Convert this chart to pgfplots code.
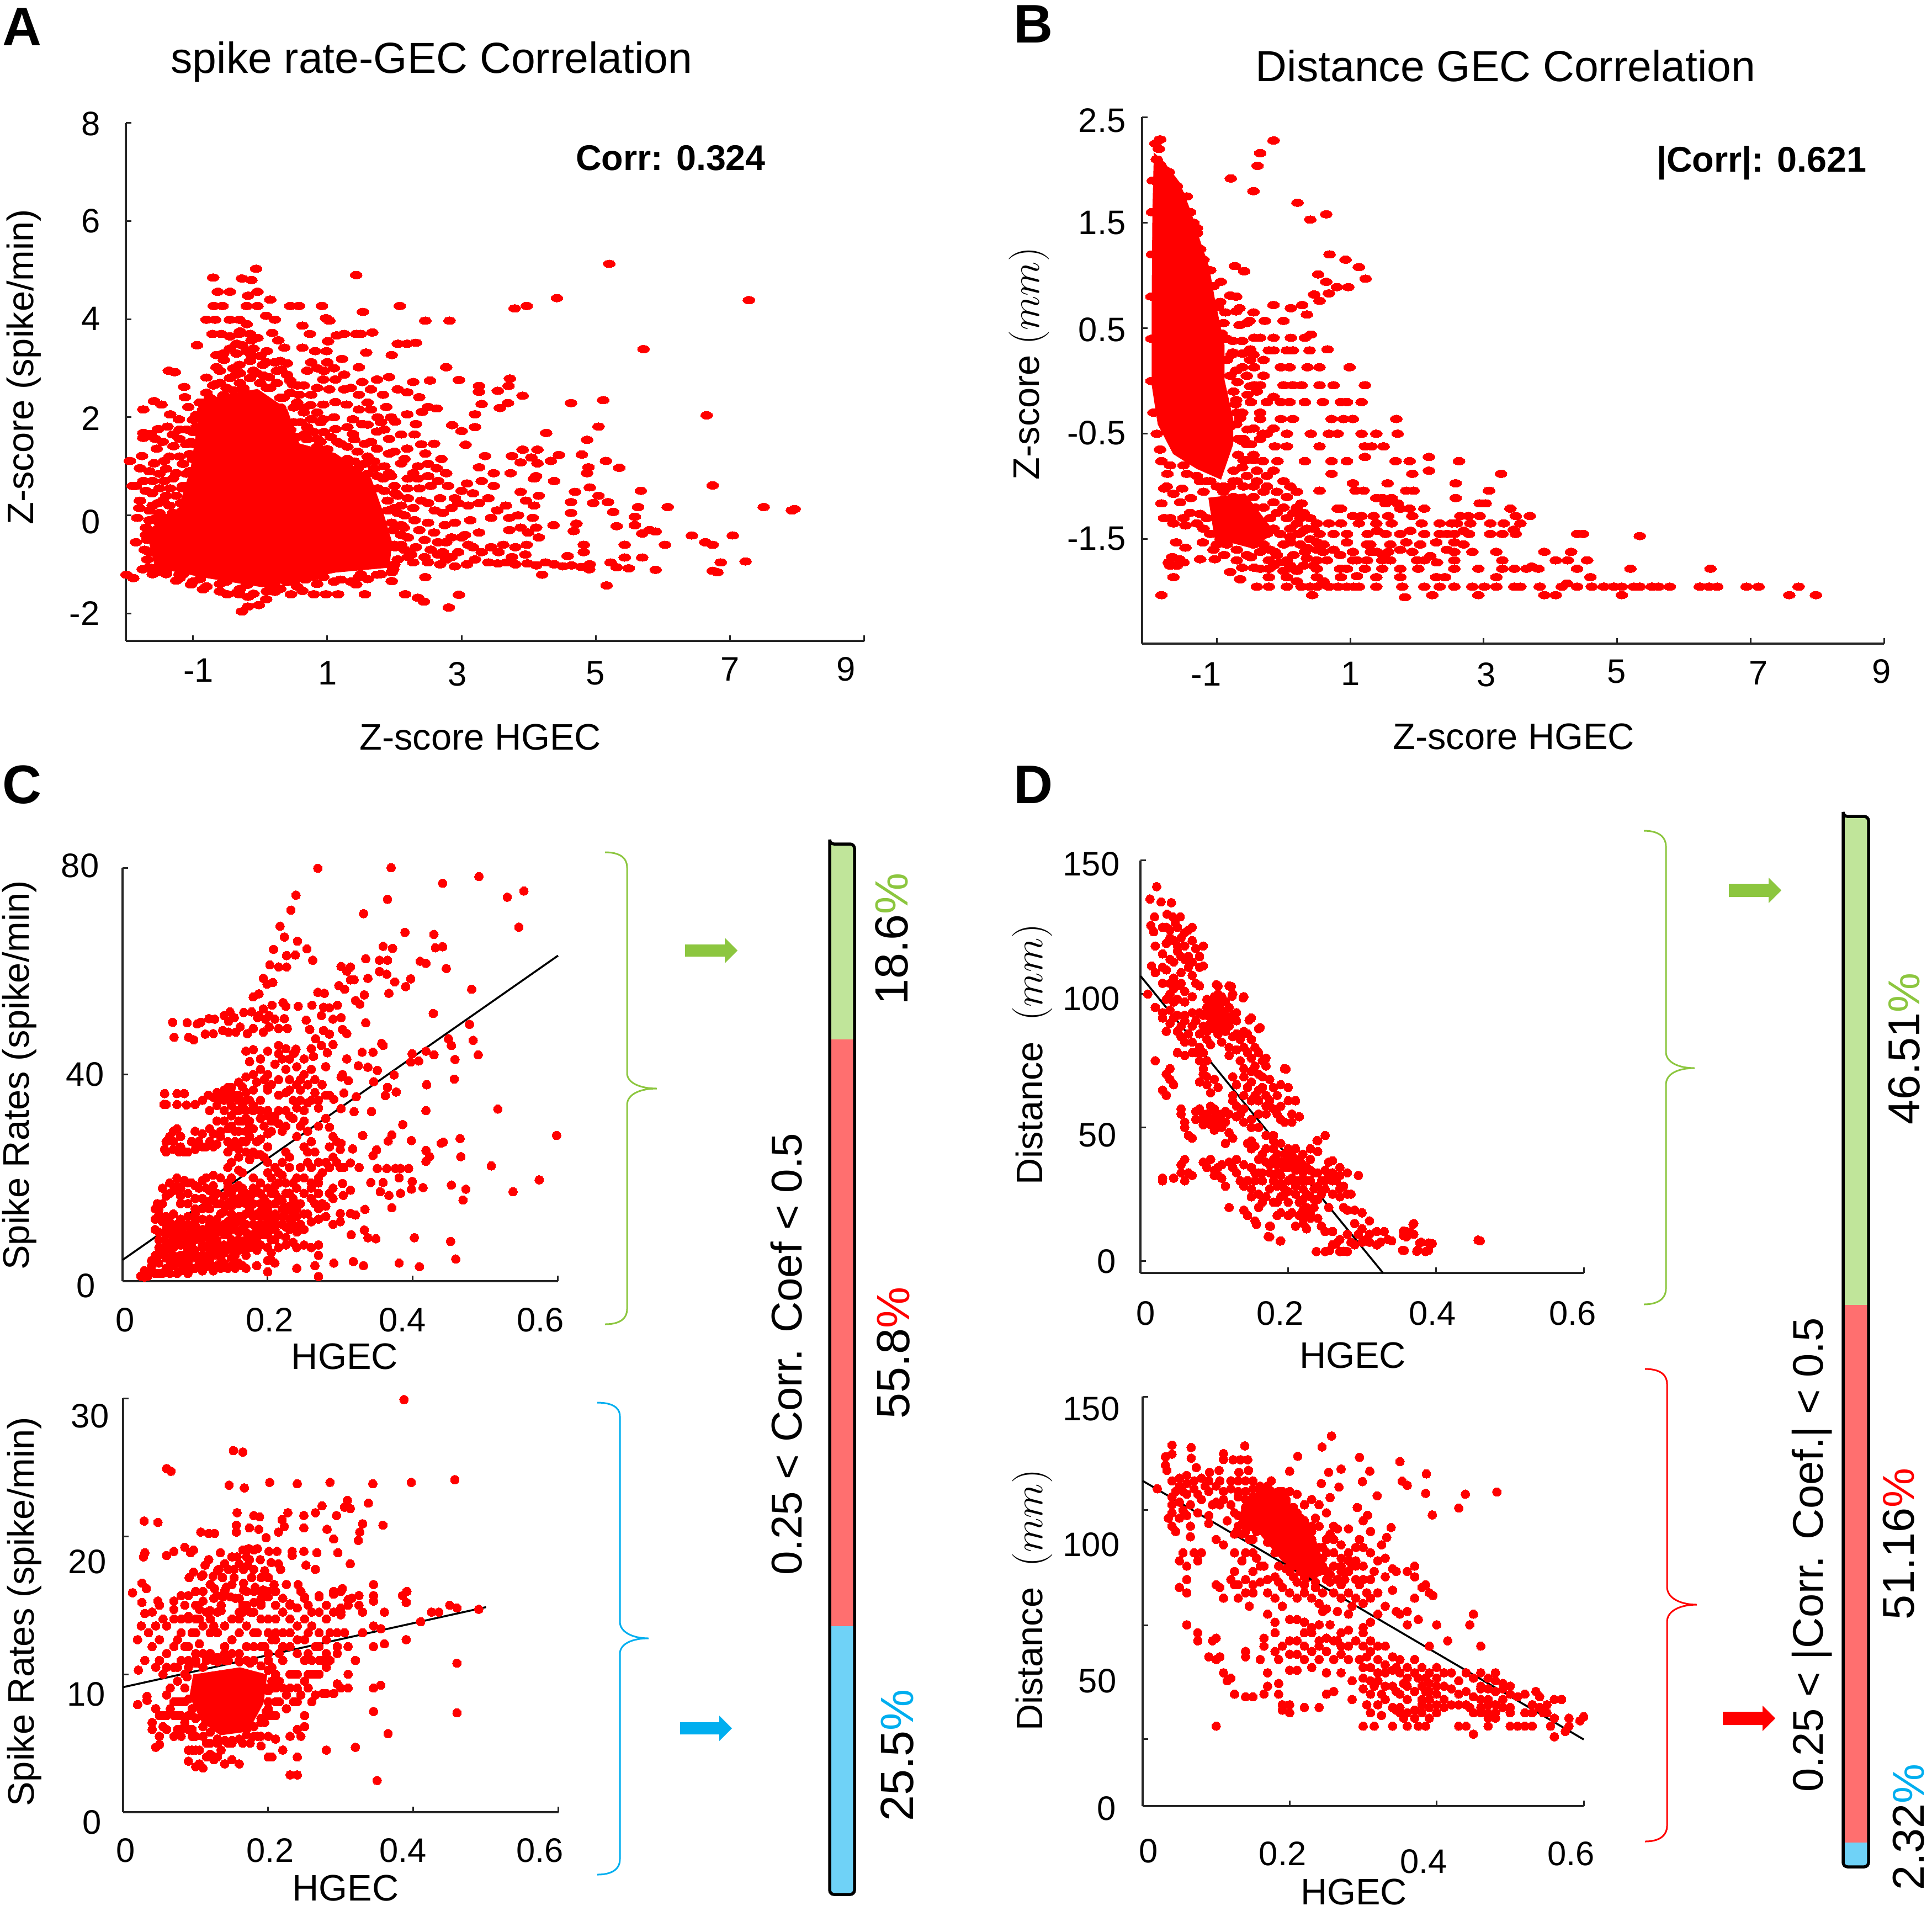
\documentclass[border=0pt]{standalone}
\usepackage{pgfplots}
\pgfplotsset{compat=1.18}
\usepackage{fontspec}
\setmainfont{Liberation Sans}
\DeclareMathSizes{19}{20.74}{17.28}{14.4}
\definecolor{ugreen}{HTML}{8CC63F}
\definecolor{ublue}{HTML}{00AEEF}
\definecolor{bgreen}{HTML}{C0E59A}
\definecolor{bred}{HTML}{FF6F6F}
\definecolor{bblue}{HTML}{6FD2F7}
\newcommand\shx[3]{\raisebox{#2}[\height][\depth]{\makebox[0pt]{\hspace*{2\dimexpr#1\relax}#3}}}
\newcommand\shy[3]{\raisebox{#2}[\height][\depth]{#3\hspace*{-\dimexpr#1\relax}}}
\newcommand\tickf{\fontsize{17.5}{20}\selectfont}
\newcommand\lblf{\fontsize{19}{22}\selectfont}
\newcommand\titf{\fontsize{22.4}{26}\selectfont}
\pgfplotsset{
 panel/.style={scale only axis, axis lines=left, axis line style={-,line width=.35mm,black!85},
  tick align=inside, tick style={line width=.3mm,black!85}, major tick length=1mm,
  clip=false, tick label style={font=\tickf,inner sep=0pt},
  minor tick num=0, scaled ticks=false},
 xl/.style 2 args={every axis x label/.style={at={(axis description cs:#1,#2)},anchor=center,font=\lblf}},
 yl/.style 2 args={every axis y label/.style={at={(axis description cs:#1,#2)},anchor=center,rotate=90,font=\lblf}},
 tl/.style 2 args={every axis title/.style={at={(axis description cs:#1,#2)},anchor=center,font=\titf}},
 dotsE/.style={red,only marks,mark=*,mark size=2pt,mark options={xscale=1.55,draw=red,fill=red,line width=0pt}},
 dotsR/.style={red,only marks,mark=*,mark size=2.25pt,mark options={draw=red,fill=red,line width=0pt}},
 stackbar/.style={scale only axis, ybar stacked, ticks=none, axis lines=box, axis on top,
  axis line style={line width=.55mm,black,rounded corners=.8mm},
  y dir=reverse, xmin=-.5,xmax=.5, ymin=0, bar shift=0pt},
}
\begin{document}
\begin{tikzpicture}
\useasboundingbox (0,0) rectangle (350mm,-346.2mm);

% ---------- A
\begin{axis}[panel, at={(22.8mm,-116.1mm)}, anchor=south west, width=133.8mm, height=93.8mm,
 xmin=-2,xmax=9,ymin=-2.56,ymax=8,
 xtick={-1,1,3,5,7,9}, ytick={-2,0,2,4,6,8},
 xticklabels={{\shx{.98mm}{.2mm}{-1}},{\shx{.1mm}{-.3mm}{1}},{\shx{-.76mm}{-.5mm}{3}},{\shx{-.1mm}{-.3mm}{5}},{\shx{0mm}{.4mm}{7}},{\shx{-3.36mm}{.4mm}{9}}},
 yticklabels={{\shy{-.1mm}{0mm}{-2}},{\shy{.0mm}{-1.2mm}{0}},{\shy{0mm}{-.2mm}{2}},{\shy{0mm}{.1mm}{4}},{\shy{0mm}{0mm}{6}},{\shy{0mm}{-.1mm}{8}}},
 xticklabel style={yshift=-3.3mm}, yticklabel style={xshift=-4.6mm},
 xlabel={Z-score HGEC}, ylabel={Z-score (spike/min)}, title={spike rate-GEC Correlation},
 xl={.48}{-.186}, yl={-.138}{.529}, tl={.414}{1.118}]
% region where the markers overlap into solid red
\addplot[fill=red,draw=red] coordinates {(-.85,2.36)(-.04,2.57)(.40,2.16)(.58,1.46)(1.12,1.26)(1.65,.75)(1.83,.05)(1.96,-.55)(1.92,-1.06)(1.12,-1.16)(.04,-1.46)(-.85,-1.26)(-1.56,-1.06)(-1.65,-.55)(-1.61,-.25)(-1.21,.15)(-1.03,.96)(-.94,1.76)} --cycle;
\addplot[dotsE] coordinates {
(-.7,4.85)(-.27,4.83)(-.13,4.8)(-.06,5.03)(1.43,4.9)(5.2,5.13)(7.28,4.39)(4.42,4.43)(3.79,4.22)(3.97,4.27)(5.71,3.39)(2.08,4.27)(2.46,3.97)(2.82,3.97)(1.53,4.15)(.92,4.27)(.58,4.27)(.45,4.27)(.15,4.4)(-.04,4.27)(-.2,4.27)(-.18,4.48)(-.04,4.56)(-.63,4.56)(-.45,4.56)(-.69,4.27)(-.56,4.27)(-.8,3.99)(-.67,3.99)(-.45,3.99)(-.31,3.99)(.09,4.07)(.22,3.99)(.63,3.87)(.98,4.02)(1.03,3.97)
(-.71,3.7)(-.58,3.7)(-.45,3.65)(-.31,3.7)(-.94,3.47)(-.13,3.57)(-.04,3.62)(.18,3.72)(.27,3.57)(.36,3.42)(.74,3.7)(.63,3.42)(.82,3.35)(1.01,3.55)(.99,3.35)(1.14,3.67)(1.25,3.7)(1.43,3.7)(1.5,3.7)(1.67,3.73)(2.05,3.5)(2.19,3.5)(2.32,3.52)(1.96,3.27)(1.58,3.32)(.09,3.12)(.22,3.12)(.76,3.12)(1,3.12)(1.22,3.19)(2.77,3.02)(2.96,2.76)(3.26,2.64)(3.26,2.52)(3.72,2.79)(3.7,2.64)(3.54,2.54)(3.91,2.44)(5.11,2.35)(4.63,2.29)(6.65,2.04)(3.69,2.29)(3.57,2.19)(3.3,2.27)(3.2,2.06)(2.86,1.84)(3.2,1.8)(3,1.72)(5.04,1.81)(4.26,1.68)(4.87,1.54)(3.06,1.44)
(-1.36,2.95)(-1.27,2.92)(-1.58,2.33)(-1.74,2.16)(-1.47,2.26)(-1.13,2.62)(-.8,2.81)(-.67,2.67)(-.54,3.17)(-.65,3.27)(-.65,3.02)(-.31,3.07)(-.27,3.47)(-.36,2.87)
(-1.94,1.11)(-1.74,1.68)(-1.74,1.58)(-1.63,1.66)(-1.76,1.21)(-1.79,.96)(-1.52,1.76)(-1.38,1.81)(-1.34,2.06)(-1.21,1.96)(-1.07,2.21)(-1.12,2.41)(-1.56,1.56)(-1.54,1.36)(-1.29,1.41)(-1.58,1.06)(-1.43,1.11)(-1.25,.86)(-1.74,.7)(-1.85,.6)(-1.7,.5)(-1.79,.3)(-1.61,.45)(-1.52,.25)(-1.65,.1)(-1.83,-.05)(-1.85,-.55)(-1.7,-.4)(-1.99,-1.21)(-1.89,-1.28)(-1.25,-1.33)(-1.34,.55)(-1.16,.55)(-1.43,.7)(-1.2,1.56)(-1.03,1.5)(-1.54,-1.16)(-1.65,-1.06)(-1.03,-1.41)(-.85,-1.51)(-.49,-1.61)(-.31,-1.61)(-.18,-1.66)(-.27,-1.96)(-.18,-1.86)(-.02,-1.83)(.09,-1.71)(.22,-1.56)(.46,-1.61)(.63,-1.54)(.8,-1.61)(.98,-1.61)(1.16,-1.61)(1.43,-1.41)(1.56,-1.61)(1.96,-1.34)(2.16,-1.61)(2.35,-1.68)(2.44,-1.76)(2.96,-1.62)(2.81,-1.88)(2.46,-1.26)(4.2,-1.21)(5.16,-1.43)
(3.4,-.96)(3.54,-.98)(3.67,-.96)(3.8,-1)(3.98,-.98)(4.11,-1.02)(4.25,-.96)(4.38,-1)(4.51,-1.04)(4.64,-1.02)(4.78,-1.05)(4.91,-1)(4.9,-1.1)(5.22,-.96)(5.31,-1.06)(5.49,-1.08)(5.89,-1.11)(5.43,-.86)(5.69,-.86)(5.43,-.6)(6.03,-.6)(5.69,-.37)(5.89,-.33)(5.8,-.3)(6.43,-.41)(6.63,-.55)(6.74,-.6)(7.04,-.41)(6.86,-.96)(6.74,-1.13)(6.81,-1.16)(7.23,-.94)(6.74,.61)(6.07,.17)(7.5,.17)(7.92,.1)(7.96,.13)(5.67,.5)(5.63,.17)(5.58,-.03)(5.58,-.2)(5.31,-.22)(5.26,.07)(5.18,.27)(5.04,.4)(4.96,.25)(4.91,.57)(5.35,.97)(5.15,1.11)(4.89,.98)(4.87,.86)(4.79,1.24)(4.45,1.23)(4.33,1.11)(4.13,1.34)(3.91,1.34)(3.75,1.21)(4.04,1.18)(3.88,1.08)(4.13,1.06)(3.35,1.21)(3.26,.98)(3.73,.86)(4.11,.8)(4.08,.75)(4.38,.7)(4.69,.48)(4.63,.27)(4.63,.05)(4.71,-.17)(4.67,-.32)(4.37,-.2)(3.88,.48)(3.96,.3)(4.15,.4)(4.08,.2)(4.06,-.05)(4.11,-.25)(3.88,-.25)(3.99,-.35)(4.15,-.45)(3.84,0)(3.71,-.05)(3.66,.2)(3.53,.1)(3.4,.35)(3.48,.6)(3.3,.7)(3.48,.86)(3.17,.45)(3,.5)(3.08,.65)(2.9,.35)(3.26,.25)(3.44,-.05)(3.13,-.1)(2.9,-.15)(3.26,-.35)(3,-.45)(2.77,-.55)(3.44,-.65)(3.17,-.65)(3.62,-.6)(3.8,-.65)(3.97,-.6)(3.71,-.3)(2.95,-.75)(2.72,-.75)(3.08,-1)(2.9,-1.04)(2.77,-.9)(4.82,-.75)(4.82,-.6)(4.58,-.83)
(2.01,.45)(2.19,.55)(2.37,.55)(2.54,.6)(2.77,.86)(2.63,.96)(2.46,1.26)(2.59,1.46)(2.19,1.36)(1.92,1.56)(2.32,1.86)(2.19,2.06)(2.01,1.91)(2.5,2.21)(2.63,2.18)(2.41,2.11)(2.37,2.41)(2.19,2.51)(2.28,2.72)(2.53,2.75)(2.05,2.57)(1.92,2.82)(1.74,2.77)(1.83,2.46)(1.65,2.57)(1.47,2.46)(1.52,2.72)(1.88,2.21)(1.65,2.16)(1.47,2.16)(1.29,2.26)(1.12,2.31)(.94,2.26)(.76,2.46)(.58,2.46)(.49,2.67)(.4,2.87)(.31,2.97)(.13,2.82)(.04,3.07)(-.13,3.27)(1.12,2.77)(.94,2.77)(1.25,2.87)(1.03,2.57)(1.25,2.57)(1.47,3.02)(1.52,1.86)(1.74,1.71)(1.92,1.26)(2.1,1.06)(2.28,.86)(1.92,.86)(2.05,.05)(2.28,.15)(2.5,.25)(2.72,.05)(2.14,-.25)(2.37,-.3)(2.59,-.35)(2.1,-.6)(2.32,-.65)(2.54,-.7)(2.05,-.9)(2.28,-.96)(2.5,-.96)(2.68,-1)(2.68,.35)
(1.2,1.46)(1.38,1.66)(1.56,1.46)(1.74,1.36)(1.12,1.76)(.94,1.96)(1.38,1.96)(.76,1.96)(.67,1.66)(.85,1.56)(1.7,.96)(1.83,.75)(1.96,-.15)(2.01,-.65)(1.96,-1.16)(1.74,-1.21)(1.47,-1.26)(1.2,-1.31)(.94,-1.26)(.67,-1.31)(.4,-1.36)(-.6,-1.4)(-.3,-1.5)(.2,-1.4)(-1.3,-.9)(-1.5,-1.1)(-1.2,-1.2)(-.75,2.4)(-.5,2.6)(-.3,2.7)(-.15,2.8)(.1,2.6)(.3,2.4)(.5,2.2)(.7,1.8)(.9,1.5)(1.4,1.1)(1.55,1.05)(1.75,.55)(1.9,.3)(2,.15)(1.2,1.1)
(-.9,2.3)(-.8,2.5)(-.7,2.2)(-.6,2.7)(-.55,2.4)(-.45,2.8)(-.4,2.55)(-.3,2.9)(-.25,2.6)(-.1,2.95)(0,2.7)(.05,2.85)(.15,2.6)(.25,2.7)(.35,2.4)(.45,2.5)(.55,2.3)(.65,2.1)(.75,2.25)(.85,2.1)(.6,1.9)(.5,1.9)(.8,1.7)(.95,1.7)(1.05,1.6)(1.15,1.5)(1.3,1.4)(1.45,1.3)(1.6,1.2)(1.7,1.1)(1.85,1)(1.95,.8)(2,.6)(2.05,.4)(2.1,.2)(2.15,0)(2.1,-.2)(2.1,-.4)(2.15,-.7)(2.2,-.85)(2,-1)(1.8,-1.2)(1.6,-1.3)(1.35,-1.35)(1.1,-1.35)(.85,-1.4)(.55,-1.45)(.3,-1.5)(.1,-1.55)(-.1,-1.6)(-.35,-1.58)(-.6,-1.55)(-.8,-1.45)(-1,-1.35)(-1.2,-1.28)(-1.4,-1.2)(-1.6,-1.2)(-1.75,-1.1)(-1.68,-.9)(-1.72,-.7)(-1.68,-.5)(-1.7,-.25)(-1.65,-.1)(-1.5,.05)(-1.35,.2)(-1.25,.4)(-1.15,.6)(-1.1,.85)(-1.15,1.05)(-1.05,1.25)(-1.1,1.45)(-1,1.7)(-1.1,1.75)(-1,1.95)(-.95,2.05)(-.85,2.15)
(-1.9,.6)(-1.8,.15)(-1.6,.7)(-1.5,.85)(-1.4,.4)(-1.5,.55)(-1.3,.75)(-1.45,1.5)(-1.35,1.2)(-1.2,1.2)(-1.3,1.65)(-1.2,1.75)(-1.4,.95)(-1.65,.9)(-1.6,.2)(-1.45,.3)(-1.55,-.05)(-1.4,-.05)(-1.3,0)
(2.2,.75)(2.35,.75)(2.5,.8)(2.65,.7)(2.8,.6)(2.85,.15)(2.95,.25)(3.1,.2)(2.2,.35)(2.4,.3)(2.6,.1)(2.3,-.1)(2.5,-.15)(2.75,-.2)(2.2,-.45)(2.45,-.5)(2.65,-.55)(2.85,-.45)(2.25,-.8)(2.45,-.85)(2.65,-.8)(2.85,-.85)(3.1,-.6)(3.3,-.75)(3.55,-.75)(3.75,-.85)(3.95,-.8)(3.2,-.9)(3.05,-.4)(2.35,1)(2.5,1.05)(2.7,1.15)(2.4,1.45)(2.3,1.65)(2.1,1.65)(2,1.3)(2.15,1.15)(1.95,2)(1.75,2)(1.8,1.9)(1.6,1.85)(1.4,1.55)(1.65,1.5)(1.85,1.75)(1.3,1.8)(1.1,2)(.9,1.9)(.65,2.2)(1.35,2.6)(1.6,2.3)
(-.55,3.3)(-.45,3.4)(-.35,3.3)(-.2,3.35)(-.15,3.15)(0,3.25)(.1,3.35)(-.05,2.9)(.3,3.15)(.25,2.95)(.4,3.1)(.45,2.75)(.55,2.65)(.65,2.65)(.7,2.95)(.85,2.6)(.95,2.95)(.85,3)(1.1,3)(-.6,2.95)(-.7,2.65)(-.4,3)(-.3,3.75)(-.2,3.9)(-.15,3.7)(-.1,3.4)(-.35,3.5)
(.3,2.2)(.45,1.75)(.55,1.6)(.7,1.55)(.85,1.4)(1,1.35)(1.3,1.15)(1.45,.95)(1.6,.85)(1.75,.8)(1.85,.5)(1.9,.1)(1.98,-.3)(2,-.6)(1.98,-1.1)(1.5,-1.2)(.8,-1.25)(.5,-1.35)(.15,-1.45)(-.2,-1.42)(-.5,-1.35)(-.9,-1.3)(-1.15,-1.2)(-1.4,-1.12)(-1.6,-1.08)(-1.65,-.75)(-1.67,-.35)(-1.5,-.15)(-1.3,.05)(-1.18,.25)(-1.08,.6)(-1.05,.9)(-1,1.15)(-.98,1.45)(-.95,1.8)(-.85,2.3)(-.55,2.45)(-.25,2.55)
};
\end{axis}

% ---------- B
\begin{axis}[panel, at={(206.9mm,-116.6mm)}, anchor=south west, width=134.4mm, height=95.35mm,
 xmin=-2.12,xmax=9,ymin=-2.49,ymax=2.5,
 xtick={-1,1,3,5,7,9}, ytick={-1.5,-.5,.5,1.5,2.5},
 xticklabels={{\shx{-1.95mm}{-.27mm}{-1}},{\shx{0mm}{-.1mm}{1}},{\shx{.43mm}{-.27mm}{3}},{\shx{-.1mm}{.27mm}{5}},{\shx{1.4mm}{0mm}{7}},{\shx{-.43mm}{.27mm}{9}}},
 yticklabels={{\shy{0mm}{.1mm}{-1.5}},{\shy{0mm}{.1mm}{-0.5}},{\shy{0mm}{-.3mm}{0.5}},{\shy{0mm}{0mm}{1.5}},{\shy{0mm}{-.6mm}{2.5}}},
 xticklabel style={yshift=-3.1mm}, yticklabel style={xshift=-2.9mm},
 xlabel={Z-score HGEC}, ylabel={Z-score $(mm)$}, title={Distance GEC Correlation},
 xl={.501}{-.177}, yl={-.152}{.532}, tl={.49}{1.098}]
% regions where the markers overlap into solid red
\addplot[fill=red,draw=red] coordinates {(-1.94,2.16)(-1.79,2.07)(-1.56,1.88)(-1.39,1.6)(-1.25,1.32)(-1.12,1.08)(-1.03,.76)(-.89,.34)(-.89,.01)(-.76,-.36)(-.76,-.6)(-.94,-.93)(-1.3,-.83)(-1.65,-.69)(-1.88,-.41)(-1.97,-.04)(-1.97,.8)(-1.96,1.6)(-1.94,2.11)} --cycle;
\addplot[fill=red,draw=red] coordinates {(-1.12,-1.11)(-.58,-1.07)(-.13,-1.44)(-.49,-1.58)(-1.03,-1.49)} --cycle;
\addplot[dotsE] coordinates {
(-1.85,2.29)(-1.87,2.2)(-1.72,1.98)(-1.45,1.75)(-1.3,1.45)
(-.15,2.28)(-.35,2.16)(-.39,2.04)(-.79,1.92)(-.45,1.8)(.21,1.69)(.64,1.58)(.4,1.53)(.69,1.2)(.93,1.15)(1.13,1.08)(1.23,.97)(.52,1.01)(.64,.94)(-.73,1.09)(-.59,1.04)(.8,.89)(.97,.89)(.68,.83)(.46,.82)(.54,.76)(-.15,.72)(.11,.69)(.28,.72)(.35,.63)(0,.57)(-.28,.57)(-.51,.57)
(-.94,.94)(-.8,.81)(-.71,.8)(-.66,.69)(-.71,.66)(-.66,.53)(-.76,.38)(-.62,.38)(-.76,.27)(-.62,.26)(-.71,.1)(-.62,.13)(-.69,-.01)(-.54,-.13)(-.71,-.18)(-.49,-.2)(-.71,-.41)(-.54,-.46)(-.62,-.57)(-.49,-.6)(-.8,-.43)(-.89,-.27)
(-.44,.41)(-.35,.41)(-.15,.41)(.11,.41)(.32,.41)(.41,.44)(-.22,.29)(-.15,.29)(.05,.29)(.14,.29)(.39,.29)(.66,.3)(-.44,.13)(-.04,.13)(.09,.13)(.36,.13)(.54,.13)(.99,.13)(-.44,-.04)(-.35,-.04)(0,-.04)(.14,-.04)(.27,-.04)(.54,-.04)(.75,-.04)(1.22,-.04)(-.04,-.2)(.09,-.2)(.32,-.2)(.59,-.2)(.86,-.2)(.95,-.2)(1.17,-.2)(-.35,-.36)(-.04,-.36)(.14,-.36)(.72,-.36)(.9,-.36)(1.04,-.36)(1.69,-.36)(-.31,-.5)(.05,-.5)(.41,-.5)(.68,-.5)(.81,-.5)(1.17,-.5)(1.39,-.5)(1.71,-.5)(-.13,-.62)(.05,-.62)(.54,-.62)(1.22,-.62)(1.32,-.62)(1.5,-.62)(-.31,-.76)(-.09,-.76)(.32,-.76)(.72,-.76)(.95,-.76)(1.22,-.72)(1.68,-.76)(1.89,-.76)(2.18,-.72)(2.63,-.76)
(.72,-.88)(1.93,-.88)(2.18,-.85)(3.26,-.88)(1.04,-.97)(1.56,-.97)(2.58,-.97)(.54,-1.04)(1.08,-1.04)(1.2,-1.04)(1.84,-1.04)(1.95,-1.04)(3.08,-1.04)(1.39,-1.11)(1.48,-1.11)(1.62,-1.11)(2.58,-1.11)(.27,-1.16)(1.53,-1.16)(1.71,-1.16)(2.94,-1.16)(3.03,-1.16)(.81,-1.21)(.86,-1.21)(1.75,-1.21)(1.89,-1.21)(2.11,-1.21)(3.4,-1.21)(1.04,-1.28)(1.17,-1.28)(1.35,-1.28)(1.57,-1.28)(1.93,-1.28)(2.65,-1.28)(2.77,-1.28)(2.94,-1.28)(3.48,-1.28)(3.69,-1.28)
(.5,-1.35)(.68,-1.35)(.86,-1.35)(1.13,-1.35)(1.39,-1.35)(1.62,-1.35)(2.07,-1.35)(2.34,-1.35)(2.52,-1.35)(2.8,-1.35)(3.1,-1.35)(3.3,-1.35)(3.55,-1.35)
(.23,-1.45)(.54,-1.45)(.95,-1.45)(1.26,-1.45)(1.53,-1.45)(1.75,-1.45)(2.11,-1.45)(2.34,-1.45)(2.56,-1.45)(2.78,-1.45)(3.1,-1.45)(3.28,-1.45)(3.48,-1.45)(4.4,-1.45)(4.49,-1.45)(5.34,-1.47)(1.4,-1.42)(1.9,-1.42)(2.7,-1.42)(3.45,-1.41)
(.5,-1.53)(.95,-1.53)(1.84,-1.53)(2.29,-1.53)(2.56,-1.53)(3.91,-1.62)(.1,-1.53)(1.3,-1.55)(2.05,-1.55)
(-.13,-1.62)(.32,-1.62)(.59,-1.62)(1.04,-1.62)(1.31,-1.62)(1.57,-1.62)(1.93,-1.62)(2.56,-1.62)(2.83,-1.62)(3.19,-1.62)(4.31,-1.62)(1.5,-1.66)(2.2,-1.66)
(-.22,-1.7)(.05,-1.7)(.5,-1.7)(1.04,-1.7)(1.48,-1.7)(2.11,-1.7)(2.56,-1.7)(3.28,-1.7)(4.08,-1.7)(4.26,-1.7)(4.55,-1.7)
(-.22,-1.78)(.14,-1.78)(.5,-1.78)(.95,-1.78)(1.22,-1.78)(1.48,-1.78)(1.75,-1.78)(2.02,-1.78)(2.56,-1.78)(2.92,-1.78)(3.28,-1.78)(3.46,-1.78)(3.64,-1.78)(3.82,-1.78)(3.72,-1.76)(4.4,-1.78)(5.2,-1.78)(6.4,-1.78)
(-.22,-1.86)(.05,-1.86)(.5,-1.86)(.86,-1.86)(1.39,-1.86)(1.75,-1.86)(2.29,-1.86)(2.42,-1.86)(3.19,-1.86)(4.6,-1.86)
(-.4,-1.95)(-.22,-1.95)(.05,-1.95)(.27,-1.95)(.5,-1.95)(.68,-1.95)(.95,-1.95)(1.13,-1.95)(1.39,-1.95)(1.78,-1.95)(2.11,-1.95)(2.34,-1.95)(2.56,-1.95)(2.83,-1.95)(3.01,-1.95)(3.19,-1.95)(3.46,-1.95)(3.55,-1.95)(3.84,-1.95)(4.17,-1.95)(4.4,-1.95)(4.62,-1.95)(4.8,-1.95)(5.07,-1.95)(5.25,-1.95)(5.34,-1.95)(5.52,-1.95)(5.79,-1.95)(6.24,-1.95)(6.5,-1.95)(6.94,-1.95)(7.12,-1.95)(7.72,-1.95)(4.25,-1.92)(4.95,-1.95)(5.62,-1.95)(6.38,-1.95)(1.05,-1.95)(.82,-1.95)
(-1.83,-2.03)(.43,-2.03)(1.82,-2.05)(2.23,-2.03)(2.92,-2.03)(3.91,-2.03)(4.08,-2.03)(5.07,-2.03)(7.58,-2.03)(7.98,-2.03)
(-1.83,-.76)(-1.74,-.88)(-1.79,-1.02)(-1.83,-1.16)(-1.79,-1.3)(-1.65,-1.35)(-1.47,-1.37)(-1.3,-1.35)(-1.65,-1.07)(-1.52,-1.02)(-1.39,-1.11)(-1.25,-1.26)(-1.61,-1.53)(-1.67,-1.67)(-1.56,-1.69)(-1.47,-1.58)(-1.65,-1.86)(-1.25,-1.69)(-1.03,-1.69)(-.89,-1.65)(-.8,-1.81)(-.65,-1.88)(-.62,-1.77)(-.44,-1.77)(-.49,-1.67)(-1.21,-1.53)(-.94,-1.5)(-1.7,-1.75)(-1.6,-1.75)(-1.72,-1.72)(-1.5,-1.72)
(-.7,-.95)(-.55,-.9)(-.4,-.95)(-.25,-1)(-.1,-1.05)(.05,-1.1)(.2,-1.2)(.3,-1.25)(.4,-1.3)(-.45,-1.1)(-.3,-1.2)(-.1,-1.25)(.05,-1.3)(.2,-1.35)(.3,-1.42)(.4,-1.5)(.1,-1.48)(0,-1.55)(.25,-1.55)(.35,-1.68)(.15,-1.65)(-.05,-1.72)(-.3,-1.55)(-.55,-.75)(-.45,-.7)(-.6,-1.25)(-.7,-1.7)(-1.1,-.95)(-1.25,-.95)(-1.45,-.88)(-1,-1.15)(-.85,-1.3)
(-1.92,2.25)(-1.9,2.1)(-1.85,2.05)(-1.78,2)(-1.7,1.92)(-1.6,1.85)(-1.5,1.75)(-1.4,1.6)(-1.35,1.5)(-1.3,1.4)(-1.25,1.25)(-1.2,1.15)(-1.1,1.05)(-1.05,.9)(-.98,.7)(-.9,.55)(-.85,.4)(-.85,.2)(-.8,.05)(-.75,-.1)(-.7,-.3)(-.65,-.35)(-.68,-.55)(-.68,-.7)(-.75,-.85)(-.8,-1)(-.9,-1)(-1,-1)(-1.15,-.95)(-1.3,-.9)(-1.5,-.8)(-1.7,-.8)(-1.85,-.65)(-1.9,-.5)(-1.95,-.3)(-1.98,0)(-1.98,.4)(-1.98,.8)(-1.97,1.2)(-1.97,1.6)(-1.96,1.9)
(-1.75,-1)(-1.55,-1.15)(-1.4,-1.25)(-1.7,-1.3)(-1.5,-1.3)(-1.2,-1.05)(-1.15,-1.3)(-1.1,-1.45)(-1.2,-1.4)(-.9,-1.05)(-.75,-1.1)(-.6,-1)(-.45,-1)(-.3,-1.05)(-.15,-1.15)(0,-1.2)(.15,-1.25)(.25,-1.3)(.35,-1.4)(.45,-1.4)(.5,-1.6)(.45,-1.75)(.3,-1.75)(.2,-1.8)(.1,-1.75)(0,-1.8)(-.1,-1.65)(-.2,-1.6)(-.35,-1.62)(-.45,-1.55)(-.55,-1.65)(-.7,-1.6)(-.85,-1.55)(-1,-1.55)(-1.05,-1.6)(-.35,-1.78)(-.15,-1.75)(-.25,-1.45)(-.05,-1.45)(.1,-1.4)(-.4,-.85)(-.25,-.9)(-.15,-.85)(0,-.95)(.1,-1)(.2,-1.05)(-.55,-.6)(-.45,-.45)(-.35,-.55)(-.25,-.5)(-.15,-.45)(-.35,-.3)(-.25,-.2)(-.15,-.15)(-.5,-.05)(-.4,-.1)(-.3,.05)(-.5,.2)(-.45,.25)(-.3,.2)(-.55,.55)(-.45,.65)(-.5,.3)(-.55,.05)(-.6,-.75)(-.45,-.75)(.75,-1.45)(.75,-1.6)(.65,-1.7)(.85,-1.65)(.85,-1.78)(1.1,-1.7)(1.25,-1.55)(1.4,-1.62)(1.25,-1.7)(1.6,-1.7)(1.75,-1.6)(1.6,-1.55)(2,-1.7)(2.3,-1.72)(2.45,-1.6)(2.45,-1.45)(2.6,-1.35)(2.7,-1.55)(1.1,-1.85)(.2,-1.9)(.6,-1.9)(.4,-1.95)(.6,-1.55)(.35,-1.58)
(-.95,.75)(-.87,.65)(-.93,.45)(-.78,.25)(-.72,-.22)(-.62,-.3)(-.6,-.55)(-.62,-.82)(-.75,-.95)(-.42,-1.2)(-.2,-1.3)(-.75,-1.4)(-.9,-1.4)(-.3,-1.4)(-.55,-1.45)(-.7,-1.45)(-.65,-1.2)(-.95,-1.2)(-.15,-1.4)
};
\end{axis}

% ---------- C top
\begin{axis}[panel, at={(22.2mm,-232.1mm)}, anchor=south west, width=78.9mm, height=74.9mm,
 xmin=0,xmax=.6,ymin=0,ymax=80,
 xtick={0,.2,.4,.6}, ytick={0,40,80},
 xticklabels={{\shx{.42mm}{0mm}{0}},{\shx{.35mm}{0mm}{0.2}},{\shx{-1.9mm}{0mm}{0.4}},{\shx{-3.2mm}{0mm}{0.6}}},
 yticklabels={{\shy{-.7mm}{-.88mm}{0}},{\shy{.9mm}{0mm}{40}},{\shy{0mm}{.34mm}{80}}},
 xticklabel style={yshift=-4.8mm}, yticklabel style={xshift=-4.2mm},
 xlabel={HGEC}, ylabel={Spike Rates (spike/min)},
 xl={.51}{-.182}, yl={-.237}{.498}]
\addplot[dotsR] coordinates {
(.269,79.9)(.37,80)(.491,78.3)(.441,77)(.553,75.5)(.53,74.3)(.546,68.5)(.365,73.9)(.239,74.7)(.232,71.8)(.332,71.1)(.217,68.7)(.223,66.6)(.241,65.8)(.389,67.5)(.429,67.1)(.208,64.2)(.254,64.3)(.359,64.8)(.372,64.4)(.431,64.5)(.441,64.7)(.226,63)(.238,63.1)(.262,62.1)(.335,62.4)(.354,62.1)(.365,62.1)(.41,61.9)(.418,61.5)(.446,60.5)(.203,61.2)(.215,60.8)(.226,60.8)(.301,60.9)(.314,60.8)(.309,60)(.354,59.9)(.364,59.4)(.338,58.6)(.194,58.6)(.199,57.5)(.207,57.8)(.314,58.3)(.319,58.3)(.397,58.5)(.375,57.9)(.298,57.2)(.306,56.5)(.39,57)(.481,56.5)(.269,55.9)(.278,55.7)(.367,55.7)(.333,55.4)(.18,55)(.188,55.6)(.321,54.3)(.327,53.6)(.242,53.2)(.261,53.4)(.296,53.4)(.277,53)(.285,52.9)(.274,51.4)(.428,51.8)(.253,50.5)(.29,50.7)(.301,51)(.335,50)(.478,49.7)(.258,48.7)(.277,48.5)(.303,48.7)(.309,47.9)(.285,47.8)(.266,46.9)(.274,45.6)(.29,45.8)(.282,44.2)(.357,46)(.359,45.6)(.449,46.9)(.483,46.6)(.453,45.6)(.215,45.6)(.239,44.9)(.237,44.2)(.33,44.3)(.345,44.3)(.399,44)(.418,44.5)(.429,43.8)(.49,43.8)(.309,43)(.397,42.4)(.408,42.6)(.458,42.9)(.325,41.7)(.338,41.4)(.351,40.8)(.303,40)(.301,39.5)(.311,38.8)(.374,39.9)(.457,39.1)(.419,38)(.346,38.6)(.365,37.5)(.377,36.6)(.362,35.9)(.305,36.4)(.322,35.7)(.291,35.2)(.301,33.4)(.319,32.8)(.343,32.8)(.418,33)(.517,33.3)
(.386,30.3)(.371,28.3)(.331,28.2)(.598,28.2)(.398,27.2)(.366,27.1)(.465,27.6)(.439,26.7)(.442,26.9)(.418,25.3)(.423,24.1)(.418,23.2)(.466,24.1)(.35,25.4)(.345,24.3)(.317,25.6)(.301,26.7)(.508,22.3)(.574,19.6)(.538,17.3)(.453,18.6)(.473,17.8)(.469,15.7)(.371,14.2)(.367,16.6)(.383,17)(.414,18.1)(.398,17.8)(.399,19.3)(.381,20)(.351,21.8)(.364,21.8)(.376,21.8)(.383,21.8)(.394,21.8)(.326,22)(.314,22.9)(.305,22)(.342,19.1)(.359,19.1)(.355,17.3)(.303,18.9)(.304,16.6)(.314,17.6)(.334,13.9)(.314,13.1)(.321,12.8)(.3,13.1)(.402,8.4)(.452,7.7)(.459,4.3)(.381,3.5)(.409,2.8)(.332,3)(.318,3.8)(.291,3.5)(.333,9.9)(.338,8.4)(.349,8.2)(.315,9)
(.069,50.1)(.089,50)(.103,49.8)(.108,50.1)(.119,50.8)(.127,50.7)(.14,51.4)(.148,52.1)(.154,51)(.167,52)(.178,52.1)(.186,51)(.194,52.7)(.202,51.4)(.206,53.4)(.221,53.9)(.225,53.2)(.223,50.8)(.071,47.2)(.091,47.2)(.098,46.7)(.114,47.8)(.125,47.9)(.138,48.5)(.146,48.2)(.156,48.2)(.172,47.9)(.18,48.9)(.194,48.2)(.202,49.2)(.215,48.9)(.227,48.9)(.146,50.3)(.162,49.2)(.188,51.4)(.197,50.7)(.21,50.7)
(.058,36.3)(.057,34.2)(.06,34.2)(.075,36.3)(.085,36.3)(.075,34.2)(.088,34.1)(.1,34.2)(.11,35)(.118,36)(.125,35.6)(.13,35.2)(.14,35)(.145,36.5)(.15,37.5)(.16,38.5)(.155,36)(.165,37.6)(.17,36.5)(.165,34)(.175,35)(.18,37)(.16,33)(.17,31.5)(.18,33)(.19,35)(.2,37)(.185,38.5)
(.17,44.5)(.18,44.8)(.175,42.5)(.19,43)(.2,44.5)(.19,41)(.2,40)(.21,42)(.215,39)(.22,43)(.225,41)(.23,39)(.235,44)(.24,41.5)(.25,40)(.25,43)(.26,41)(.225,36.5)(.235,35)(.245,37)(.255,34.5)(.27,35)(.28,36)(.275,38)(.285,36)(.263,43.5)(.28,41.5)(.27,33.5)(.2,37.5)(.24,33.5)
(.06,27)(.058,25.5)(.06,25)(.07,29)(.075,29.5)(.08,28)(.07,25.5)(.078,25)(.085,25)(.1,25.5)(.11,28.5)(.1,29)(.115,26)(.125,26)(.13,26.5)(.12,29.5)(.125,28.5)(.135,28)(.14,31)(.15,30)(.155,29)(.145,27)(.16,25.5)(.17,27)(.18,25)(.19,24.5)(.165,31)(.175,31)(.19,31.5)(.205,31)(.215,30.5)(.225,30)(.2,28.5)(.15,23)(.145,22)(.16,21.5)(.175,23.5)(.185,27)(.195,30)
(.255,29)(.27,30)(.285,29.8)(.28,31.5)(.26,27)(.265,25)(.27,23)(.275,21)(.285,26)(.29,24)(.3,25.5)(.295,27)(.26,19)(.26,18)(.27,20)(.265,15)(.27,14)(.285,17)(.29,16)(.28,14.5)(.29,18)(.255,13)(.27,12)(.28,12.5)(.26,11.5)(.29,11)(.3,11.5)(.245,22)(.255,23)
(.055,18)(.065,19)(.07,17.5)(.06,16.5)(.048,15)(.08,16.5)(.09,17)(.095,19)(.105,18)(.115,20)(.125,20.5)(.135,20)(.15,20)(.165,21)(.18,20)(.2,21)(.215,19)(.23,22)(.225,17)(.235,16)(.24,15)(.22,14)(.23,12)(.225,10.5)(.215,9)(.24,9.5)(.24,12.5)(.2,13)(.19,11)(.175,9)(.16,8)(.14,7)(.12,5.5)(.1,6)(.08,7)(.07,5)(.06,4.5)(.05,3.5)(.045,5)(.04,2)(.035,1)(.025,1)(.03,.8)(.045,1.5)(.055,1.5)(.065,1.5)(.075,1.5)(.09,1.5)(.1,2.5)(.115,2.8)(.13,3)(.14,3.5)(.15,3)(.16,3.5)(.165,3)(.15,4.5)(.135,4.5)(.12,4)(.105,4)(.09,3.5)(.08,3.5)(.17,5)(.165,6.5)(.185,6)(.2,4)(.185,3)(.205,4)(.21,3.5)(.2,1.8)(.24,2.5)(.27,.9)(.265,3)(.27,5)(.25,7)(.24,6.5)(.225,7)(.215,6.5)(.205,5.5)(.26,6.5)(.27,7)(.25,10)(.245,11)(.05,13)(.045,12)(.06,12.5)(.07,13)(.08,12)(.09,11)(.1,10)(.06,9)(.07,9)(.05,8)(.075,7)(.085,9)(.045,10)(.055,11.5)(.08,15)(.1,14)(.12,14)(.13,17)(.15,17)(.17,17)(.19,17)(.205,17)(.11,12)(.13,11)(.15,13)(.17,13)(.18,15)(.2,15)(.21,11)
(.06,7)(.065,6.5)(.07,7.5)(.08,5)(.09,5.5)(.095,7)(.1,8)(.11,8.5)(.11,7)(.12,7.5)(.125,9)(.13,8)(.135,6)(.145,9)(.15,10)(.155,11)(.165,10)(.17,11)(.14,11)(.12,10)(.1,12)(.09,9)(.08,9.5)(.07,10.5)(.06,11)(.145,15)(.16,15)(.17,15)(.135,13)(.12,12)(.105,8.5)(.115,10)(.13,9.5)(.18,11)(.185,13)(.195,9)(.205,8)(.18,7)(.16,6)(.15,6)
(.03,2)(.04,3)(.05,1.5)(.06,2.5)(.07,3)(.08,2)(.085,3)(.095,2.5)(.105,2.8)(.11,2)(.12,3)(.125,2)(.135,2.5)(.145,2.5)(.155,2.5)(.17,2.5)
(.04,4)(.05,5)(.055,6)(.065,4)(.075,4.5)(.085,5)(.095,4.5)(.11,5)(.125,5)(.14,5.5)(.155,5)(.05,6.5)(.06,7.5)(.07,6.5)(.085,7)(.095,7.5)(.11,6.5)(.125,6.5)(.145,6.5)(.17,7.5)(.19,7)(.2,6.5)(.21,8)(.225,8.5)(.235,7.5)
(.05,9.5)(.06,10)(.07,8)(.08,8.5)(.09,8)(.1,8.5)(.1,11)(.11,10)(.12,9)(.12,11)(.13,12)(.14,9)(.14,10)(.15,8)(.15,11.5)(.16,9.5)(.165,11.5)(.17,9.5)(.18,9)(.185,10)(.19,9)(.19,12.5)(.2,10)(.2,11.5)(.21,10)(.22,11)(.23,10)(.235,11)(.235,13.5)(.24,14)
(.08,18)(.09,15)(.1,16)(.11,16)(.115,15)(.125,16)(.135,15)(.14,16.5)(.15,15.5)(.16,16)(.165,18)(.175,16)(.18,18)(.19,19)(.195,14)(.21,13)(.215,16)(.2,18)(.21,17)(.215,21)(.22,23)(.225,25)(.23,24)(.21,22)(.205,20)(.18,17)(.16,18.5)(.145,19)(.125,18.5)(.11,19.5)(.09,19)(.075,20)(.065,17)(.055,15)(.05,14)(.045,14)
(.16,24)(.165,27)(.17,25)(.175,28)(.185,24.5)(.19,27.5)(.2,26)(.205,29)(.195,24)(.2,23)(.145,25)(.15,26)(.155,27)(.135,29)(.13,31)(.145,29.5)(.12,27)(.11,26)(.105,27)(.09,25)(.095,27)(.08,26)(.07,27)(.065,28)(.18,29.5)(.17,29)(.21,31)(.22,29)(.235,31.5)(.245,30)(.25,31)(.24,28)(.25,26)(.255,25)(.26,22)(.25,20)(.24,18)(.25,17)(.245,15)(.25,13)(.26,16)(.27,17)(.275,15)(.27,19)(.28,23)(.29,28)(.285,22)(.295,23)(.3,22)
(.12,33)(.13,34)(.14,33)(.15,34)(.155,33)(.145,37.5)(.16,36)(.17,35)(.18,34)(.19,33)(.21,32)(.225,33)(.23,32)(.245,35)(.25,33)(.26,35)(.265,36.5)(.255,38)(.24,38)(.23,37)(.215,36)(.2,33)(.205,38)(.195,39)(.18,40)(.17,39.5)(.215,44)(.225,45)(.23,43)(.245,39)(.26,45)(.265,39)
(.07,4)(.08,4.5)(.09,6)(.1,5)(.11,4)(.12,6.5)(.13,5.5)(.13,7)(.14,6)(.15,7)(.155,7.5)(.16,7)(.17,8)(.175,6.5)(.18,8)(.185,8.5)(.19,10)(.2,9)(.195,10.5)(.205,10)(.21,12)(.22,12.5)(.225,13.5)(.23,14.5)(.22,15.5)(.2,14)(.19,15)(.175,14)(.165,12.5)(.155,12)(.145,11.5)(.135,10.5)(.125,10.5)(.115,9)(.105,9.5)(.095,10)(.085,10.5)(.075,11)(.065,11.5)(.06,6)(.07,9.5)(.08,10)(.09,12.5)(.1,13)(.11,14)(.12,15.5)(.13,15)(.14,13.5)(.15,14.5)(.16,12.5)(.17,15.5)(.18,12.5)(.19,13.5)(.2,12)(.21,15)(.23,17)(.225,19)(.235,19)(.24,20)(.22,20.5)(.21,18.5)(.195,16)(.185,17.5)(.165,17)(.155,18)(.145,18)(.12,17.5)(.115,18)(.1,18.5)(.085,19.5)(.075,18.5)
(.135,36)(.13,36.5)(.15,35.5)(.14,37)(.16,35)(.17,33)(.15,32)(.16,31)(.16,29)(.175,30)(.2,32)(.215,33)
};
\addplot[black,line width=.35mm] coordinates {(0,4.1)(.6,63)};
\end{axis}

% ---------- C bottom
\begin{axis}[panel, at={(22.3mm,-328.3mm)}, anchor=south west, width=78.9mm, height=75mm,
 xmin=0,xmax=.6,ymin=0,ymax=30,
 xtick={0,.2,.4,.6}, ytick={0,10,20,30},
 xticklabels={{\shx{.49mm}{0mm}{0}},{\shx{.35mm}{0mm}{0.2}},{\shx{-1.9mm}{0mm}{0.4}},{\shx{-3.37mm}{0mm}{0.6}}},
 yticklabels={{\shy{-1.4mm}{-1.79mm}{0}},{\shy{-.7mm}{-3.64mm}{10}},{\shy{-.5mm}{-4.66mm}{20}},{\shy{0mm}{-3.2mm}{30}}},
 xticklabel style={yshift=-4.7mm}, yticklabel style={xshift=-2.5mm},
 xlabel={HGEC}, ylabel={Spike Rates (spike/min)},
 xl={.511}{-.183}, yl={-.227}{.484}]
% region where the markers overlap into solid red
\addplot[fill=red,draw=red] coordinates {(.097,9.96)(.161,10.47)(.198,9.96)(.193,7.9)(.172,5.87)(.134,5.6)(.108,6.6)(.092,8.4)} --cycle;
\addplot[dotsR] coordinates {
(.387,29.9)(.152,26.2)(.165,26.1)(.06,24.9)(.066,24.7)(.202,23.9)(.24,23.8)(.285,23.9)(.344,23.8)(.397,23.9)(.457,24.1)(.146,23.7)(.167,23.5)(.309,22.6)(.338,22.4)(.274,22.2)(.305,22.1)(.313,22)(.157,21.7)(.18,21.5)(.188,21.4)(.227,21.7)(.249,21.5)(.265,21.7)(.294,21.5)(.029,21.1)(.048,21)(.219,21.2)(.33,20.9)(.358,20.8)(.156,20.8)(.156,20.3)(.174,20.6)(.187,20.5)(.222,20.7)(.249,20.6)(.281,20.5)(.326,20.3)(.214,20.3)(.29,19.8)(.324,19.7)(.107,20.3)(.118,20.2)(.126,20.2)(.197,19.9)
(.03,18.8)(.028,18.5)(.06,18.6)(.07,18.9)(.085,19.2)(.097,19)(.093,18.8)(.173,19.1)(.185,19.1)(.201,18.9)(.212,18.9)(.233,18.9)(.233,18.6)(.249,18.9)(.267,18.8)(.296,18.8)(.134,18.8)(.157,18.5)(.118,18.3)(.174,18.3)(.189,18.3)(.204,18.1)(.214,18)(.313,18)(.252,17.9)(.265,17.6)(.097,17.4)(.091,17)(.113,17.9)(.11,17.2)(.132,17.6)(.145,17.6)(.153,17.6)(.166,17.6)(.18,17.6)(.172,17.9)(.217,17.6)(.124,17.1)(.137,17)(.153,17)(.108,17.1)
(.013,15.9)(.026,16.6)(.032,16.2)(.026,15.2)(.048,15.3)(.126,16.2)(.142,16.3)(.129,15.7)(.148,15.6)(.166,16.6)(.177,17)(.166,16.1)(.19,17)(.182,16.3)(.193,16.1)(.208,16.5)(.225,16.5)(.241,16.5)(.345,16.5)(.302,16.2)(.391,16)(.08,15.7)(.07,15.3)(.05,15)(.11,15.3)(.07,14.7)(.085,15)(.09,14.2)(.105,14.7)(.12,14.6)(.135,14.6)(.137,15.6)(.17,15)(.16,14.5)(.18,15.2)(.2,15.6)(.19,15.1)(.21,15)(.23,15.1)(.25,15.6)(.27,15.6)(.255,15)(.29,15.8)(.31,15.4)(.325,15)(.345,15.7)(.3,14.8)(.39,15.2)
(.02,12.5)(.03,14.4)(.025,13.5)(.035,13)(.04,14.5)(.045,13.5)(.05,12.5)(.05,11)(.055,14)(.06,11.5)(.04,12)(.03,11)(.045,10.5)(.055,10)(.06,13.5)(.07,14)(.08,13)(.085,15)(.09,14)(.09,12)(.1,13)(.1,15)(.105,12.2)(.11,13.5)(.12,14)(.125,15.5)(.13,13)(.135,15)(.14,12)(.15,14)(.155,15.5)(.16,13)(.165,14.5)(.17,12)(.18,14.5)(.185,13)(.19,15.5)(.195,12)(.2,14)(.205,12.5)(.21,14)(.215,11.5)(.22,13)(.23,12)(.24,13.5)(.25,14)(.26,13.5)(.25,12.5)(.265,12)(.27,13)(.28,14)(.29,14.5)(.295,13)(.3,14.5)(.305,13)(.31,12)(.33,13)(.345,13.5)(.355,13.3)(.345,12)(.36,12.2)(.36,14.5)(.33,14.5)(.31,15)(.315,15.5)(.3,16)(.29,16)(.325,15.7)(.345,15.3)(.255,15)(.27,15.7)(.245,16)(.23,15)(.22,15.5)(.2,16)(.19,15)(.385,15.7)(.39,12.5)(.41,13.8)(.425,14.5)(.435,14.5)(.45,15)(.46,14.8)(.49,14.7)(.3,14.3)
(.021,10.3)(.02,7.8)(.033,8.4)(.033,8.1)(.045,7.5)(.05,7)(.04,6.5)(.04,6)(.055,6.2)(.05,5.5)(.045,4.7)(.05,4.9)(.07,7)(.075,6)(.08,5.5)(.07,5.5)(.07,8)(.06,8.5)(.065,9)(.075,9.5)(.085,10)(.09,6)(.095,4.5)(.09,3.7)(.1,3.3)(.11,3.2)(.105,4.5)(.1,5.5)(.125,3.8)(.14,3.5)(.15,3.8)(.16,3.5)(.145,5)(.13,5)(.115,5)(.175,5)(.19,4.8)(.2,5.5)(.21,5.3)(.2,4)(.205,4)(.22,4.5)(.23,5.5)(.24,6)(.24,4)(.23,2.7)(.24,2.7)(.25,6.2)(.245,5.5)(.25,7)(.225,7.5)(.235,8)(.245,8.5)(.255,9)(.26,8)(.275,8.6)(.28,8.6)(.29,8.6)(.3,9)(.31,9)(.295,9.3)(.31,10)(.28,10.5)(.27,10)(.285,11)(.295,11.5)(.32,11)(.345,9)(.355,9.2)(.345,7.3)(.365,5.7)(.32,4.7)(.28,4.5)(.35,2.3)(.46,7.2)(.46,10.8)(.26,10)(.25,11)(.24,10)(.23,9)(.215,8)(.21,9)(.205,10.5)(.22,11)(.2,8)(.24,11.5)(.255,11.5)(.27,11)(.28,11.5)(.33,13)
(.09,11)(.1,11)(.11,10.5)(.125,11)(.14,11)(.16,11)(.18,11)(.2,11)(.085,8)(.08,7)(.09,7)(.185,5.5)(.17,6)(.2,7)(.21,7)(.195,6.5)(.095,6)(.11,5.5)(.12,5)(.15,5)
(.095,5.5)(.1,4.5)(.105,3.5)(.115,4)(.12,4.2)(.13,4)(.135,4.5)(.09,4.5)(.085,6.5)(.095,7)(.08,8)(.085,9)(.075,8)(.065,7.5)(.055,7)(.06,6)(.06,7)(.075,7)(.08,6)(.165,5)(.18,5.5)(.19,5.5)(.19,6.5)(.2,7.5)(.2,9)(.205,7)(.21,8)(.21,10)(.215,9.5)(.22,9)(.23,10)(.225,8.5)(.235,10)(.24,9)(.24,8)(.25,9.5)(.255,10)(.26,11)(.265,10)(.265,8.5)(.275,11)
(.06,10.5)(.07,10.5)(.08,11)(.09,10.5)(.1,11.5)(.11,11.5)(.12,11.5)(.13,11.2)(.14,11.5)(.15,11.5)(.16,11.5)(.17,11)(.18,12)(.19,12)(.2,11.5)(.21,12.5)(.22,12)(.23,13)(.24,12.5)(.255,13)(.27,12)(.28,12.5)(.285,13)(.295,12)(.07,12)(.08,14)(.075,12.5)(.085,12)(.095,13)(.105,14)(.12,13)(.13,14.5)(.14,13.5)(.15,12.5)(.16,14)(.17,13.5)(.18,13)(.19,14)(.2,13)(.21,13)(.22,14.5)(.23,14)(.24,14.8)(.25,15.5)(.26,14.5)(.27,14.5)(.28,15)
(.14,16)(.15,16.5)(.16,15.5)(.165,15)(.17,16)(.175,14.5)(.18,16)(.19,16)(.195,17.5)(.2,17)(.21,16)(.16,18)(.165,19)(.17,18.5)(.18,19)(.15,18.5)(.14,18)(.13,17.5)(.12,16.5)(.11,16)(.1,16)(.09,15.7)(.1,14)(.115,14.5)(.125,13.5)
(.09,10.5)(.1,10.8)(.115,11)(.13,10.9)(.145,11)(.16,10.9)(.175,10.8)(.19,10.6)(.2,10.3)(.205,9.5)(.2,8.8)(.2,8)(.197,7.3)(.19,6.8)(.18,6.2)(.17,5.6)(.16,5.3)(.15,5.2)(.14,5.2)(.13,5.3)(.12,5.8)(.11,6.2)(.1,6.8)(.095,7.5)(.09,8.2)(.085,9)(.088,9.8)(.075,10.5)
};
\addplot[black,line width=.35mm] coordinates {(0,9.06)(.5,14.86)};
\end{axis}

% ---------- D top
\begin{axis}[panel, at={(206.6mm,-230.6mm)}, anchor=south west, width=80.3mm, height=74.7mm,
 xmin=0,xmax=.6,ymin=-4.5,ymax=150,
 xtick={0,.2,.4,.6}, ytick={0,50,100,150},
 xticklabels={{\shx{.98mm}{0mm}{0}},{\shx{-1.47mm}{0mm}{0.2}},{\shx{-.63mm}{0mm}{0.4}},{\shx{-1.96mm}{0mm}{0.6}}},
 yticklabels={{\shy{-.7mm}{-.14mm}{0}},{\shy{-.6mm}{-1.35mm}{50}},{\shy{0mm}{-.88mm}{100}},{\shy{0mm}{-.68mm}{150}}},
 xticklabel style={yshift=-5.1mm}, yticklabel style={xshift=-3.7mm},
 xlabel={HGEC}, ylabel={Distance~ $(mm)$},
 xl={.479}{-.2}, yl={-.244}{.53}]
\addplot[dotsR] coordinates {
(.022,140.2)(.013,135.6)(.028,134.5)(.042,134.2)(.019,128.9)(.036,129.9)(.044,128.9)(.054,128.9)(.047,126.8)(.014,125.7)(.018,123.3)(.035,125)
(.103,103.5)(.123,102.8)(.124,99.2)(.139,98.6)(.147,90.2)(.162,87.4)(.197,71.9)(.239,45.1)(.457,7.8)(.369,13.7)(.356,11.2)(.356,9.5)(.366,10.5)(.357,3.9)(.374,3.6)(.386,3.5)(.378,6.7)(.39,6.7)(.238,3.5)(.256,3.9)(.275,3.6)(.173,9.1)(.189,7.4)(.176,13)(.157,13.7)
(.02,118)(.015,110.5)(.02,108)(.01,100)(.03,115)(.035,119)(.04,113)(.05,118)(.04,121)(.055,121)(.06,123)(.065,124)(.07,125)(.05,125)(.06,118)(.07,120)(.075,117)(.085,118)(.08,114)(.065,114)(.055,114)(.045,112)(.035,109)(.045,106)(.055,108)(.065,110)(.08,110)(.085,110.5)(.07,107)(.075,104)(.08,103)(.05,103)(.045,102)(.055,104)(.06,101)(.035,98)(.05,98)(.06,97)(.07,99)(.02,95)(.03,93)(.03,91)(.04,89)(.035,86)(.05,92)(.06,92)(.07,93)(.06,90)(.065,85)(.08,85)(.09,98)(.1,99)(.105,103)(.12,103)(.125,100)(.14,99)(.105,97)(.11,94)(.1,95)(.09,92)(.095,89)(.1,90)(.115,92)(.12,95)(.13,93)(.13,90)(.115,86)(.125,84)(.11,82)(.12,80)(.15,91)(.16,87)(.14,86)(.13,85)(.135,83)(.145,85)(.15,83)(.155,80)(.12,77)(.135,75)(.14,72)(.15,71)(.16,70)(.165,75)(.17,76)(.16,78)(.17,73)(.14,69)(.15,67)(.165,65)(.175,60)(.18,65)(.195,72)(.19,66)(.2,65)(.185,62)(.2,60)(.19,58)(.21,60)(.205,55)(.195,52)(.205,52)(.215,54)(.17,58)(.16,60)(.17,55)(.16,55)(.15,53)(.125,60)(.13,58)(.125,62)(.13,66)(.125,69)(.105,65)(.1,68)(.085,72)(.08,67)(.08,75)(.09,75)(.075,78)(.07,78)(.06,77)(.05,78)(.04,72)(.035,70)(.04,68)(.045,66)(.03,64)(.035,62)(.02,75)(.055,57)(.055,55)(.06,52)(.06,50)(.065,47)(.07,46)(.075,53)(.085,55)(.09,55)(.095,53)(.1,52)(.105,52)(.11,50)(.115,52)(.12,55)(.135,55)(.12,48)(.125,46)(.115,44)(.15,45)(.155,43)(.145,44)(.06,38)(.055,36)(.055,33)(.03,31)(.03,30)(.045,31)(.06,30)(.065,33)(.07,32)(.085,37)(.09,35)(.1,34)(.105,35)(.1,32)(.11,31)(.115,28)(.12,20)(.14,19)(.145,17)(.155,15)(.175,13)(.175,9)(.19,7.5)(.12,37)(.125,35)(.13,33)(.135,30)(.14,28)(.15,27)(.16,25)(.165,22)(.16,20)(.15,35)(.16,33)(.165,30)(.17,37)(.175,33)(.18,38)(.18,30)(.185,28)(.185,36)(.19,32)(.2,35)(.2,30)(.195,27)(.21,34)(.21,30)(.22,33)(.215,38)(.21,42)(.22,40)(.195,25)(.185,22)(.185,17)(.2,22)(.205,18)(.21,25)(.215,22)(.215,17)(.21,13)(.22,14)(.225,12)(.23,16)(.225,25)(.23,30)(.24,33)(.235,27)(.24,23)(.245,25)(.25,27)(.26,30)(.265,30)(.26,25)(.255,20)(.235,20)(.24,16)(.245,13)(.25,11)(.26,11)(.25,3.5)(.26,6)(.265,6.5)(.27,3.5)(.27,8)(.28,3.5)(.285,7)(.28,10)(.275,20)(.29,14)(.29,6)(.3,7)(.3,12)(.3,18)(.305,8)(.31,15)(.32,11)(.32,6)(.33,11)(.335,8)(.36,11)(.36,9)(.37,14)(.37,10)(.355,4)(.375,4)(.38,7)(.39,4)(.395,6.5)(.46,7.5)(.24,45)(.25,47)(.24,41)(.255,37)(.25,34)(.27,35)(.26,37.5)(.28,33)(.275,28)(.285,25)(.295,32)(.18,45)(.19,44)(.18,47)(.17,42)(.165,40)(.16,38)(.15,42)(.23,42)
(.085,92)(.09,95)(.095,93)(.1,92)(.105,91)(.085,88)(.09,86)(.1,87)(.105,85)(.11,89)(.11,99)(.095,97)(.1,56)(.09,53)(.095,51)(.1,49)(.105,55)(.085,51)(.11,55)(.115,56)(.2,38)(.205,36)(.2,42)(.195,40)(.215,30)(.22,27)(.21,28)(.2,26)(.205,31)(.19,29)(.225,20)(.23,24)(.22,19)(.225,17)
(.03,125)(.04,124)(.045,120)(.05,116)(.06,113)(.07,112)(.03,110)(.04,104)(.03,104)(.04,100)(.045,97)(.04,94)(.045,91)(.055,88)(.05,86)(.055,84)(.06,82)(.07,88)(.075,90)(.08,93)(.07,82)(.08,80)(.085,78)(.09,83)(.095,81)(.085,70)(.09,69)(.09,66)(.095,63)(.105,100)(.115,97)(.1,97)(.105,95)(.095,96)(.12,90)(.105,87)(.11,91)(.12,88)(.125,92)(.13,79)(.14,80)(.145,78)(.15,76)(.155,73)(.165,69)(.175,68)(.17,62)(.18,57)(.185,55)(.19,53)(.14,62)(.145,65)(.14,57)(.15,60)(.155,62)(.16,64)(.13,54)(.14,52)(.15,50)(.16,50)(.17,47)(.18,42)(.185,40)(.19,37)(.195,35)(.205,40)(.215,35)(.22,36)(.225,30)(.23,34)(.235,33)(.23,38)(.22,23)(.24,28)(.245,30)(.25,30)(.255,32)(.26,33)(.27,32)(.27,27)(.27,24)(.28,25)(.28,19)(.29,19)(.295,10)(.31,10)(.31,7)(.325,7)(.34,7.5)(.15,24)(.155,30)(.17,24)(.175,27)(.18,22)(.19,24)(.19,18)(.2,17)(.22,16)(.23,18)(.235,23)(.22,30)(.225,35)(.21,38)(.2,37)(.185,33)(.175,36)(.165,33)(.155,33)(.145,30)(.14,36)(.13,38)(.11,36)(.095,38)(.105,32)(.11,52)(.105,50)(.1,57)(.095,58)(.085,53)(.08,57)(.075,56)
};
\addplot[black,line width=.35mm] coordinates {(0,106.8)(.3283,-4.5)};
\end{axis}

% ---------- D bottom
\begin{axis}[panel, at={(207mm,-327.2mm)}, anchor=south west, width=79.9mm, height=74.2mm,
 xmin=0,xmax=.6,ymin=0,ymax=153.6,
 xtick={0,.2,.4,.6}, ytick={25.1,67.8,111.1,153.6}, yticklabels={},
 extra y ticks={0,50,100,150}, extra y tick style={major tick length=0pt},
 extra y tick labels={{\shy{-.7mm}{-.45mm}{0}},{\shy{-.6mm}{-1.53mm}{50}},{\shy{0mm}{-.9mm}{100}},{\shy{0mm}{-.45mm}{150}}},
 xticklabels={{\shx{1.05mm}{.51mm}{0}},{\shx{-1.26mm}{0mm}{0.2}},{\shx{-2.38mm}{-1.4mm}{0.4}},{\shx{-2.31mm}{0mm}{0.6}}},
 xticklabel style={yshift=-6.4mm}, yticklabel style={xshift=-4.1mm},
 xlabel={HGEC}, ylabel={Distance~ $(mm)$},
 xl={.479}{-.21}, yl={-.25}{.503}]
% region where the markers overlap into solid red
\addplot[fill=red,draw=red] coordinates {(.135,112)(.17,118)(.205,112)(.235,100)(.25,88)(.225,84)(.19,92)(.16,102)(.13,105)} --cycle;
\addplot[dotsR] coordinates {
(.257,138.8)(.244,134.7)(.04,135.4)(.066,134.5)(.139,135.1)(.211,131.2)(.295,130.8)(.35,129.2)(.031,131)(.04,132)(.066,130.5)(.11,132.2)(.11,130)(.123,129.9)(.133,129.9)(.143,129.9)(.031,127.9)(.033,125.9)(.073,127)(.091,125.2)(.104,125.9)(.131,125.2)(.144,125.9)(.2,125.6)(.27,126.4)(.253,125.2)(.309,125.6)(.386,124.6)(.353,121.9)(.36,120.3)(.299,121.7)(.267,119.7)(.243,121)(.385,117.3)(.439,117)(.482,117.8)(.319,116.4)(.255,115.7)(.394,109.2)(.43,111.8)(.292,112)(.306,109.1)(.338,104.5)(.332,100.8)
(.02,119)(.04,122)(.04,116)(.05,123)(.06,121)(.06,117)(.07,122)(.075,117)(.08,115)(.085,120)(.09,118)(.1,120)(.105,122)(.11,118)(.105,113)(.1,114)(.09,109)(.075,110)(.065,113)(.055,111)(.05,114)(.04,110)(.035,108)(.04,105)(.045,103)(.05,108)(.065,105)(.065,101)(.09,106)(.1,100)(.11,98)(.115,107)(.12,119)(.13,116)(.14,118)(.15,119)(.16,117)(.165,113)(.175,122)(.12,113)(.125,110)(.13,105)(.145,100)(.16,110)(.18,100)(.19,95)(.2,118)(.21,117)(.22,113)(.23,115)(.24,113)(.25,110)(.255,102)(.24,105)(.23,100)(.25,95)(.26,100)(.27,93)(.28,104)(.27,98)(.29,97)(.3,90)(.31,95)(.3,107)(.31,103)(.325,98)(.33,93)(.29,85)(.28,88)(.26,90)(.24,88)(.23,92)(.22,86)(.21,84)(.2,80)(.19,82)(.17,80)(.16,84)(.15,88)(.14,85)(.125,88)(.135,92)(.14,95)(.155,93)(.165,90)(.17,85)(.18,86)(.185,90)(.205,90)(.22,92)(.235,84)(.245,80)(.255,84)(.265,85)(.27,88)(.28,80)(.295,83)(.31,85)(.32,80)(.33,86)(.34,89)(.345,88)(.36,88)(.37,86)(.37,90)(.38,82)(.385,83)(.39,80)(.395,79)(.34,81)(.33,75)(.345,73)(.35,72)(.36,68)(.36,73)(.375,70)(.37,78)(.32,72)(.31,69)(.3,67)(.28,72)(.265,73)(.25,74)(.24,68)(.22,69)(.23,67)(.21,70)(.2,70)(.19,60)(.18,69)(.17,72)(.11,78)(.105,82)(.1,83)(.06,80)(.06,85)(.05,82)(.05,92)(.06,90)(.055,95)(.075,92)(.07,95)(.08,95)
(.06,68)(.075,65)(.075,62)(.1,63)(.095,62)(.09,56)(.1,55)(.105,56)(.11,50)(.115,47)(.12,48)(.125,42)(.14,41)(.15,41)(.1,30)(.14,56)(.14,58)(.16,55)(.165,60)(.165,63)(.17,50)(.17,45)(.165,42)(.185,46)(.185,42)(.19,38)(.2,38)(.2,35)(.19,36)(.21,51)(.2,51)(.22,37)(.24,37)(.25,42)(.26,43)(.185,55)(.18,58)(.2,62)(.21,62)(.22,60)(.23,58)(.22,65)(.23,65)(.24,62)(.25,63)(.26,62)(.26,55)(.27,57)(.28,60)(.29,62)(.3,65)(.24,55)(.25,50)(.27,50)(.28,55)(.285,47)(.3,48)(.31,52)(.32,55)(.33,53)(.34,51)(.35,50)(.34,56)(.33,60)(.31,58)(.295,55)(.285,40)(.3,30)(.315,30)(.3,44)(.305,38)(.31,42)(.32,38)(.325,34)(.34,37)(.34,30)(.35,42)(.36,40)(.36,30)(.375,30)(.385,30)(.37,36)(.38,35)(.39,33)(.36,52)(.37,55)(.38,52)(.39,50)(.4,52)(.41,45)(.38,45)(.37,43)(.385,43)(.4,42)(.41,37)(.42,38)(.43,30)(.44,30)(.43,42)(.445,37)(.46,40)(.47,35)(.48,35)(.49,37)(.5,35)(.51,30)(.53,30)(.535,43)(.56,40)(.55,35)(.56,33)(.58,33)(.58,30)(.595,32)(.6,33.5)(.57,40)(.555,30)(.56,26)(.575,28)(.45,27)(.44,50)(.45,48)(.46,50)(.47,44)(.48,43)(.47,48)(.49,40)(.5,37)(.5,45)(.51,41)(.52,42)(.53,38)(.54,37)(.52,35)(.545,35)(.39,60)(.415,62)(.45,72)(.46,60)(.445,68)(.4,68)(.43,47)(.42,44)
(.2,100)(.21,102)(.22,100)(.22,107)(.15,110)(.14,105)(.175,118)(.185,118)(.19,112)(.2,110)(.225,96)(.235,96)(.245,93)(.26,95)(.28,92)(.3,97)(.29,90)(.27,83)(.25,88)(.2,88)(.185,84)(.15,80)(.33,50)(.32,50)(.31,47)(.345,52)(.36,45)(.39,46)(.4,35)(.39,40)(.37,50)(.38,40)(.35,37)(.355,33)(.47,40)(.48,47)(.46,44)(.45,41)(.44,43)(.48,38)(.47,33)(.46,37)
(.13,118)(.14,112)(.15,115)(.155,113)(.16,108)(.165,118)(.17,116)(.175,110)(.18,112)(.19,118)(.195,115)(.205,112)(.215,108)(.22,104)(.225,100)(.23,105)(.235,108)(.2,92)(.21,92)(.215,88)(.225,88)(.23,88)(.24,92)(.245,97)(.25,100)(.26,105)(.265,104)(.27,90)(.28,95)(.285,90)(.29,92)(.295,100)(.3,85)(.305,80)(.315,88)(.32,92)(.31,78)(.25,85)(.26,80)(.27,78)(.275,85)(.285,75)(.29,78)(.3,76)(.24,76)(.245,73)(.23,78)(.22,80)(.21,78)(.19,75)(.18,78)(.16,90)(.15,83)(.14,80)(.145,75)(.13,83)(.12,85)(.125,83)(.13,78)(.15,95)(.125,95)(.135,102)(.145,108)(.125,102)(.15,100)(.06,109)(.07,119)(.08,123)(.09,122)(.095,113)(.11,115)(.12,122)(.13,122)(.14,122)(.15,122)(.16,120)(.17,118)(.04,113)(.045,118)(.05,120)(.055,118)(.06,124)
(.18,65)(.2,57)(.21,57)(.22,55)(.23,52)(.24,60)(.25,58)(.27,65)(.28,66)(.255,68)(.265,62)(.27,60)(.3,60)(.305,56)(.31,62)(.32,60)(.3,52)(.315,45)(.33,45)(.34,45)(.345,43)(.355,46)(.345,36)(.35,35)(.36,35)(.37,33)(.38,38)(.39,37)(.4,38)(.4,45)(.41,40)(.375,48)(.385,48)(.39,43)(.36,48)(.35,55)(.32,47)(.325,42)(.33,40)(.31,35)(.47,38)(.46,35)(.45,35)(.47,30)(.48,33)(.46,45)(.49,46)(.5,42)(.49,44)(.48,50)(.44,38)(.43,38)(.42,50)(.41,50)(.52,30)(.5,30)(.55,38)(.53,35)(.54,41)(.4,48)
(.13,109)(.14,115)(.15,116)(.16,118)(.17,120)(.185,116)(.195,114)(.21,110)(.22,105)(.23,103)(.24,97)(.245,90)(.255,87)(.235,82)(.22,83)(.205,86)(.195,89)(.18,95)(.17,99)(.155,103)(.14,103)(.128,103)
};
\addplot[black,line width=.35mm] coordinates {(0,122)(.6,25)};
\end{axis}

% ---------- stacked percentage bars
\begin{axis}[stackbar, at={(150.3mm,-343.2mm)}, anchor=south west, width=4.5mm, height=190.3mm, ymax=99.9, bar width=4.5mm]
\addplot[fill=bgreen,draw=none] coordinates {(0,18.6)};
\addplot[fill=bred,draw=none] coordinates {(0,55.8)};
\addplot[fill=bblue,draw=none] coordinates {(0,25.5)};
\end{axis}
\begin{axis}[stackbar, at={(333.9mm,-338.2mm)}, anchor=south west, width=4.6mm, height=190.3mm, ymax=99.99, bar width=4.6mm]
\addplot[fill=bgreen,draw=none] coordinates {(0,46.51)};
\addplot[fill=bred,draw=none] coordinates {(0,51.16)};
\addplot[fill=bblue,draw=none] coordinates {(0,2.32)};
\end{axis}

\begin{scope}[x=.1mm,y=-.1mm]
% panel letters
\foreach \t/\xx/\yy in {A/40/49,B/1872/44,C/40/1422,D/1872/1422}
  \node[font=\fontsize{28}{30}\selectfont\bfseries,inner sep=0pt] at (\xx,\yy) {\t};
% correlation notes
\node[font=\fontsize{18.4}{22}\selectfont\bfseries,inner sep=0pt] at (1215,286) {Corr: 0.324};
\node[font=\fontsize{18.4}{22}\selectfont\bfseries,inner sep=0pt] at (3191,295) {|Corr|: 0.621};
% rotated texts
\node[rotate=90,font=\fontsize{22.2}{24}\selectfont,inner sep=0pt] at (1425,2453) {0.25 < Corr. Coef < 0.5};
\node[rotate=90,font=\fontsize{22.1}{24}\selectfont,inner sep=0pt] at (3283,2817) {0.25 < |Corr. Coef.| < 0.5};
\node[rotate=90,font=\fontsize{24}{26}\selectfont,inner sep=0pt] at (1615,1701) {18.6\textcolor{ugreen}{\%}};
\node[rotate=90,font=\fontsize{24}{26}\selectfont,inner sep=0pt] at (1618,2451) {55.8\textcolor{red}{\%}};
\node[rotate=90,font=\fontsize{24}{26}\selectfont,inner sep=0pt] at (1625,3180) {25.5\textcolor{ublue}{\%}};
\node[rotate=90,font=\fontsize{23}{26}\selectfont,inner sep=0pt] at (3450,1900) {46.51\textcolor{ugreen}{\%}};
\node[rotate=90,font=\fontsize{23}{26}\selectfont,inner sep=0pt] at (3440,2797) {51.16\textcolor{red}{\%}};
\node[rotate=90,font=\fontsize{23}{26}\selectfont,inner sep=0pt] at (3458,3310) {2.32\textcolor{ublue}{\%}};
% braces
\draw[ugreen,line width=.3mm] (1096,1544) .. controls (1120,1544) and (1136,1552) .. (1136,1572) -- (1136,1944) .. controls (1136,1962) and (1160,1972) .. (1190,1972) .. controls (1160,1972) and (1136,1982) .. (1136,2002) -- (1136,2371) .. controls (1136,2391) and (1120,2399) .. (1096,2399);
\draw[ublue,line width=.3mm] (1082,2541) .. controls (1106,2541) and (1123,2548) .. (1123,2566) -- (1123,2938) .. controls (1123,2956) and (1145,2968) .. (1175,2968) .. controls (1145,2968) and (1123,2978) .. (1123,2996) -- (1123,3368) .. controls (1123,3388) and (1106,3396) .. (1082,3396);
\draw[ugreen,line width=.3mm] (2978,1505) .. controls (3002,1505) and (3018,1514) .. (3018,1534) -- (3018,1906) .. controls (3018,1924) and (3040,1935) .. (3070,1935) .. controls (3040,1935) and (3018,1945) .. (3018,1965) -- (3018,2334) .. controls (3018,2354) and (3002,2363) .. (2978,2363);
\draw[red,line width=.3mm] (2980,2480) .. controls (3004,2480) and (3020,2488) .. (3020,2508) -- (3020,2875) .. controls (3020,2895) and (3044,2907) .. (3074,2907) .. controls (3044,2907) and (3020,2918) .. (3020,2938) -- (3020,3307) .. controls (3020,3327) and (3004,3336) .. (2980,3336);
% arrows
\fill[ugreen] (1241,1711) -- (1313,1711) -- (1313,1699) -- (1336,1722) -- (1313,1745) -- (1313,1733) -- (1241,1733) -- cycle;
\fill[ublue] (1232,3120) -- (1303,3120) -- (1303,3108) -- (1326,3131) -- (1303,3154) -- (1303,3142) -- (1232,3142) -- cycle;
\fill[ugreen] (3132,1601) -- (3204,1601) -- (3204,1590) -- (3227,1613) -- (3204,1636) -- (3204,1625) -- (3132,1625) -- cycle;
\fill[red] (3121,3101) -- (3193,3101) -- (3193,3090) -- (3216,3113) -- (3193,3136) -- (3193,3125) -- (3121,3125) -- cycle;
\end{scope}
\end{tikzpicture}
\end{document}
